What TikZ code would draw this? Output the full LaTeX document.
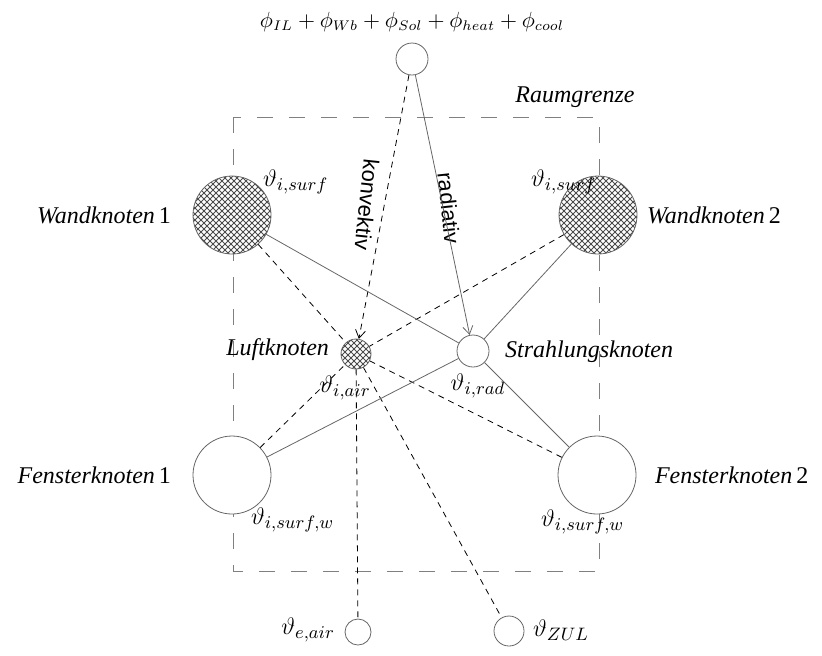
\documentclass[tikz,border=0pt]{standalone}
\usepackage{amsmath}
\usepackage{amssymb}
\usepackage{fontspec}
\setmainfont{Liberation Serif}
\setsansfont{Liberation Sans}
\usepackage{tikz}
\usetikzlibrary{
    positioning,
    arrows.meta,
    patterns
}
\tikzset{
    >={Straight Barb[length=4pt,width=5pt]},
    knoten/.style={
        circle,
        draw=gray!80!black,
        fill=white,
        inner sep=0pt
    },
    grosserknoten/.style={
        knoten,
        minimum size=39pt
    },
    kleinerknoten/.style={
        knoten,
        minimum size=15pt
    },
    schraffiert/.style={
        preaction={fill=white},
        preaction={pattern=north east lines, pattern color=gray!60!black},
        pattern=north west lines,
        pattern color=gray!60!black
    },
    konv/.style={
        dashed,
        dash pattern=on 3pt off 2.5pt,
        thin
    },
    rad/.style={
        draw=gray!80!black,
        thin
    },
    beschriftung/.style={
        font=\fontsize{12}{14}\selectfont\itshape
    },
    temperatur/.style={
        font=\fontsize{12.5}{14}\selectfont
    }
}

\begin{document}
\begin{tikzpicture}[
    x=0.5pt,
    y=-0.5pt
]
    \useasboundingbox (0,0) rectangle (822,655);

    % Raumgrenze
    \draw[gray, dash pattern=on 8pt off 8pt] (233,117) rectangle (599,571);
    \node[beschriftung] (raum) at (575,97) {Raumgrenze};

    % Knoten
    \node[kleinerknoten, minimum size=16pt] (quelle) at (412,59)  {};
    \node[grosserknoten, schraffiert]       (wand1)  at (232,215) {};
    \node[grosserknoten, schraffiert]       (wand2)  at (598,215) {};
    \node[kleinerknoten, schraffiert]       (luft)   at (356,354) {};
    \node[kleinerknoten, minimum size=16pt] (strahl) at (473,351) {};
    \node[grosserknoten]                    (fen1)   at (232,475) {};
    \node[grosserknoten]                    (fen2)   at (597,475) {};
    \node[kleinerknoten, minimum size=13pt] (aussen) at (358,632) {};
    \node[kleinerknoten, minimum size=15pt] (zul)    at (509,631) {};

    % Beschriftungen
    \node[font=\fontsize{10.5}{12}\selectfont] (lasten) at (412,22)
        {$\phi_{IL}+\phi_{Wb}+\phi_{Sol}+\phi_{heat}+\phi_{cool}$};
    \node[beschriftung, anchor=east] (twand1) at (178,215) {Wandknoten\,\upshape 1};
    \node[beschriftung, anchor=west] (twand2) at (640,215) {Wandknoten\,\upshape 2};
    \node[beschriftung, anchor=east] (tluft)  at (336,350) {Luftknoten};
    \node[beschriftung, anchor=west] (tstrahl) at (498,352) {Strahlungsknoten};
    \node[beschriftung, anchor=east] (tfen1)  at (178,475) {Fensterknoten\,\upshape 1};
    \node[beschriftung, anchor=west] (tfen2)  at (648,475) {Fensterknoten\,\upshape 2};

    \node[temperatur, anchor=west] (surf1) at (256,182) {$\vartheta_{i,surf}$};
    \node[temperatur, anchor=west] (surf2) at (524,182) {$\vartheta_{i,surf}$};
    \node[temperatur] (air)  at (345,388) {$\vartheta_{i,air}$};
    \node[temperatur] (radt) at (478,386) {$\vartheta_{i,rad}$};
    \node[temperatur, anchor=west] (surfw1) at (244,520) {$\vartheta_{i,surf,w}$};
    \node[temperatur, anchor=west] (surfw2) at (534,522) {$\vartheta_{i,surf,w}$};
    \node[temperatur, anchor=east] (eair) at (342,630) {$\vartheta_{e,air}$};
    \node[temperatur, anchor=west] (tzul) at (526,630) {$\vartheta_{ZUL}$};

    \node[font=\sffamily\fontsize{11}{13}\selectfont, rotate=-96] (tkonv) at (367,205) {konvektiv};
    \node[font=\sffamily\fontsize{11}{13}\selectfont, rotate=-84] (trad)  at (449,208) {radiativ};

    % Verbindungen konvektiv
    \path[konv]
        (quelle) edge[->] (luft)
        (wand1)  edge (luft)
        (wand2)  edge (luft)
        (fen1)   edge (luft)
        (fen2)   edge (luft)
        (luft)   edge (aussen)
        (luft)   edge (zul);

    % Verbindungen radiativ
    \path[rad]
        (quelle) edge[->] (strahl)
        (wand1)  edge (strahl)
        (wand2)  edge (strahl)
        (fen1)   edge (strahl)
        (fen2)   edge (strahl);

\end{tikzpicture}
\end{document}
